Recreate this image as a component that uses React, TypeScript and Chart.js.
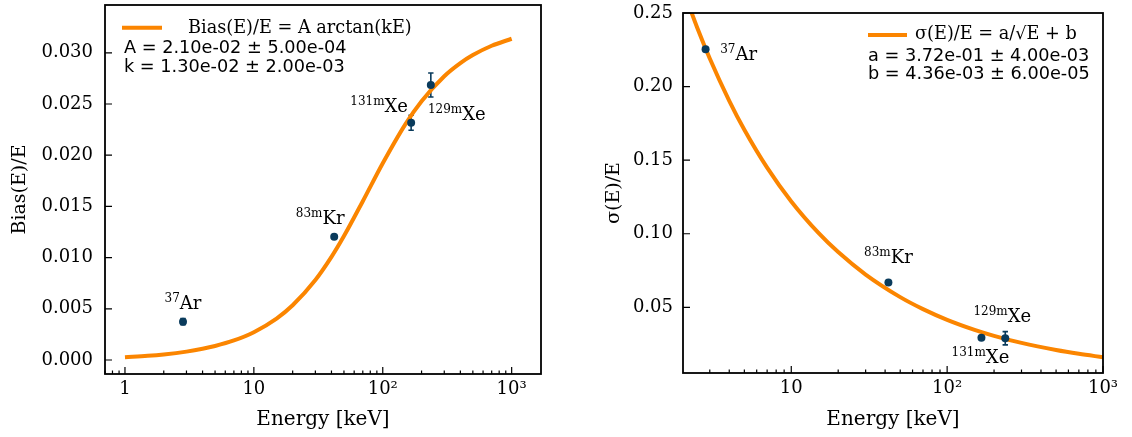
import { useEffect, useRef } from 'react';
import { Chart, registerables } from 'chart.js';

Chart.register(...registerables);

const FONT = '"DejaVu Serif", serif';
const SANS = '"DejaVu Sans", sans-serif';
const NAVY = '#0a3b5c';
const ORANGE = '#fb8500';

// ---- shared data ----
const isoMass = ['37', '83m', '131m', '129m'];
const isoSymbol = ['Ar', 'Kr', 'Xe', 'Xe'];
const energies = [2.82, 42, 166, 236];

// ---- left panel: bias ----
const biasValues = [0.00374, 0.01204, 0.02317, 0.02686];
const biasErrors = [0.0003, 0.0001, 0.00073, 0.00117];
const biasFitEnergy = [1, 1.5, 2, 3, 4, 5, 7, 10, 15, 20, 30, 40, 50, 70, 100, 150, 200, 300, 400, 500, 700, 1000];
const biasFitValue = [0.000273, 0.000409, 0.000546, 0.000819, 0.001091, 0.001363, 0.001906, 0.002715, 0.004045, 0.005342, 0.007809, 0.01007, 0.012104, 0.015509, 0.019217, 0.023043, 0.025276, 0.027716, 0.028997, 0.029781, 0.030688, 0.031375];
const biasYTicks = [0, 0.005, 0.01, 0.015, 0.02, 0.025, 0.03];
const biasYTickLabels = ['0.000', '0.005', '0.010', '0.015', '0.020', '0.025', '0.030'];
const biasXTicks = [1, 10, 100, 1000];
const biasXTickLabels = ['1', '10', '10²', '10³'];
const biasLegend = ['Bias(E)/E = A arctan(kE)', 'A = 2.10e-02 ± 5.00e-04', 'k = 1.30e-02 ± 2.00e-03'];

// ---- right panel: resolution ----
const resValues = [0.2254, 0.0669, 0.0293, 0.029];
const resErrors = [0.001, 0.001, 0.001, 0.0045];
const resFitEnergy = [2, 2.5, 3, 4, 5, 7, 10, 15, 20, 30, 50, 70, 100, 150, 200, 300, 500, 700, 1000];
const resFitValue = [0.267404, 0.239634, 0.219134, 0.19036, 0.170723, 0.144963, 0.121996, 0.10041, 0.087542, 0.072278, 0.056969, 0.048823, 0.04156, 0.034734, 0.030664, 0.025837, 0.020996, 0.01842, 0.016124];
const resYTicks = [0.05, 0.1, 0.15, 0.2, 0.25];
const resYTickLabels = ['0.05', '0.10', '0.15', '0.20', '0.25'];
const resXTicks = [10, 100, 1000];
const resXTickLabels = ['10', '10²', '10³'];
const resLegend = ['σ(E)/E = a/√E + b', 'a = 3.72e-01 ± 4.00e-03', 'b = 4.36e-03 ± 6.00e-05'];

// ---- layout / style (pixels) ----
const biasLabelOffsets = [[0, -13], [-14, -13], [-32, -11], [26, 35]];
const resLabelOffsets = [[33, 11], [0, -19], [-1, 25], [-3, -16]];
const biasLegendPos = { lineX0: 17, lineX1: 57, lineY: 22.7, textX: 83, textY: 27.7, restX: 19, restY: [48.3, 67.3] };
const resLegendPos = { lineX0: 185, lineX1: 224, lineY: 22, textX: 232, textY: 26.3, restX: 185, restY: [47.5, 66] };

function makeDecor(cfg: any) {
  return {
    id: 'decor',
    beforeDatasetsDraw(chart: any) {
      const { ctx } = chart;
      const x = chart.scales.x, y = chart.scales.y;
      ctx.save();
      ctx.strokeStyle = NAVY;
      ctx.lineWidth = 1.6;
      cfg.energies.forEach((e: number, i: number) => {
        const px = x.getPixelForValue(e);
        const y1 = y.getPixelForValue(cfg.values[i] - cfg.errors[i]);
        const y2 = y.getPixelForValue(cfg.values[i] + cfg.errors[i]);
        ctx.beginPath();
        ctx.moveTo(px, y1); ctx.lineTo(px, y2);
        ctx.moveTo(px - 2.7, y1); ctx.lineTo(px + 2.7, y1);
        ctx.moveTo(px - 2.7, y2); ctx.lineTo(px + 2.7, y2);
        ctx.stroke();
      });
      ctx.restore();
    },
    afterDraw(chart: any) {
      const { ctx, chartArea: a } = chart;
      const x = chart.scales.x, y = chart.scales.y;
      ctx.save();
      // ticks (inward)
      ctx.strokeStyle = '#000';
      ctx.lineWidth = 1.2;
      ctx.beginPath();
      const lo = Math.floor(Math.log10(x.min)), hi = Math.ceil(Math.log10(x.max));
      for (let d = lo; d <= hi; d++) {
        for (let m = 1; m < 10; m++) {
          const v = m * Math.pow(10, d);
          if (v < x.min || v > x.max) continue;
          const px = x.getPixelForValue(v);
          const len = m === 1 ? 7 : 3.5;
          ctx.moveTo(px, a.bottom); ctx.lineTo(px, a.bottom - len);
        }
      }
      y.ticks.forEach((t: any) => {
        const py = y.getPixelForValue(t.value);
        ctx.moveTo(a.left, py); ctx.lineTo(a.left + 7, py);
      });
      ctx.stroke();
      // frame
      ctx.lineWidth = 1.8;
      ctx.strokeRect(a.left, a.top, a.right - a.left, a.bottom - a.top);
      // isotope labels
      ctx.fillStyle = '#000';
      ctx.textBaseline = 'alphabetic';
      ctx.textAlign = 'left';
      cfg.energies.forEach((e: number, i: number) => {
        const px = x.getPixelForValue(e) + cfg.labelOffsets[i][0];
        const py = y.getPixelForValue(cfg.values[i]) + cfg.labelOffsets[i][1];
        ctx.font = `12px ${FONT}`;
        const sw = ctx.measureText(cfg.mass[i]).width;
        ctx.font = `18px ${FONT}`;
        const mw = ctx.measureText(cfg.symbol[i]).width;
        const x0 = px - (sw + mw) / 2;
        ctx.font = `12px ${FONT}`;
        ctx.fillText(cfg.mass[i], x0, py - 7);
        ctx.font = `18px ${FONT}`;
        ctx.fillText(cfg.symbol[i], x0 + sw, py);
      });
      // legend
      const L = cfg.legendPos;
      ctx.strokeStyle = ORANGE;
      ctx.lineWidth = 4;
      ctx.beginPath();
      ctx.moveTo(a.left + L.lineX0, a.top + L.lineY);
      ctx.lineTo(a.left + L.lineX1, a.top + L.lineY);
      ctx.stroke();
      ctx.font = `17.7px ${FONT}`;
      ctx.fillText(cfg.legend[0], a.left + L.textX, a.top + L.textY);
      ctx.font = `17.7px ${SANS}`;
      ctx.fillText(cfg.legend[1], a.left + L.restX, a.top + L.restY[0]);
      ctx.fillText(cfg.legend[2], a.left + L.restX, a.top + L.restY[1]);
      ctx.restore();
    },
  };
}

function makeChart(canvas: HTMLCanvasElement, p: any) {
  return new Chart(canvas, {
    type: 'scatter',
    data: {
      datasets: [
        {
          type: 'scatter',
          data: p.energies.map((e: number, i: number) => ({ x: e, y: p.values[i] })),
          pointRadius: 4,
          pointBackgroundColor: NAVY,
          pointBorderWidth: 0,
          order: 0,
        } as any,
        {
          type: 'line',
          data: p.fitE.map((e: number, i: number) => ({ x: e, y: p.fitY[i] })),
          borderColor: ORANGE,
          borderWidth: 4,
          pointRadius: 0,
          cubicInterpolationMode: 'monotone',
          fill: false,
          order: 1,
          clip: 0,
        } as any,
      ],
    },
    options: {
      animation: false,
      responsive: false,
      layout: { padding: p.padding },
      plugins: { legend: { display: false }, tooltip: { enabled: false } },
      scales: {
        x: {
          type: 'logarithmic',
          min: p.xMin,
          max: p.xMax,
          bounds: 'data',
          afterFit: (s: any) => { s.height = p.xAxisHeight; s.paddingLeft = 0; s.paddingRight = 0; },
          afterBuildTicks: (s: any) => { s.ticks = p.xTicks.map((v: number) => ({ value: v, major: true })); },
          grid: { display: false, drawTicks: false },
          border: { display: false },
          ticks: {
            autoSkip: false, maxRotation: 0, minRotation: 0, padding: 5, color: '#000',
            font: { size: 18, family: FONT },
            callback: (_v: any, i: number) => p.xTickLabels[i],
          },
          title: { display: true, text: 'Energy [keV]', color: '#000', font: { size: 20, family: FONT }, padding: { top: 0, bottom: 5 } },
        },
        y: {
          type: 'linear',
          min: p.yMin,
          max: p.yMax,
          bounds: 'data',
          afterFit: (s: any) => { s.width = p.yAxisWidth; s.paddingTop = 0; s.paddingBottom = 0; },
          afterBuildTicks: (s: any) => { s.ticks = p.yTicks.map((v: number) => ({ value: v })); },
          grid: { display: false, drawTicks: false },
          border: { display: false },
          ticks: {
            autoSkip: false, padding: p.yTickPad, color: '#000',
            font: { size: 18, family: FONT },
            callback: (_v: any, i: number) => p.yTickLabels[i],
          },
          title: { display: true, text: p.yTitle, color: '#000', font: { size: 19, family: FONT }, padding: { top: 8.6, bottom: 0 } },
        },
      },
    } as any,
    plugins: [makeDecor(p)],
  } as any);
}

export default function App() {
  const leftRef = useRef<HTMLCanvasElement>(null);
  const rightRef = useRef<HTMLCanvasElement>(null);

  useEffect(() => {
    Chart.defaults.font.family = FONT;
    Chart.defaults.color = '#000';
    const c1 = makeChart(leftRef.current!, {
      energies, values: biasValues, errors: biasErrors,
      fitE: biasFitEnergy, fitY: biasFitValue,
      xMin: 0.7, xMax: 1689, yMin: -0.001367, yMax: 0.03467,
      xTicks: biasXTicks, xTickLabels: biasXTickLabels,
      yTicks: biasYTicks, yTickLabels: biasYTickLabels,
      yTitle: 'Bias(E)/E',
      padding: { left: 0, top: 5, right: 49, bottom: 0 },
      xAxisHeight: 63, yAxisWidth: 105, yTickPad: 12,
      mass: isoMass, symbol: isoSymbol, labelOffsets: biasLabelOffsets,
      legend: biasLegend, legendPos: biasLegendPos,
    });
    const c2 = makeChart(rightRef.current!, {
      energies, values: resValues, errors: resErrors,
      fitE: resFitEnergy, fitY: resFitValue,
      xMin: 2.02, xMax: 1000, yMin: 0.0054, yMax: 0.25,
      xTicks: resXTicks, xTickLabels: resXTickLabels,
      yTicks: resYTicks, yTickLabels: resYTickLabels,
      yTitle: 'σ(E)/E',
      padding: { left: 0, top: 13, right: 29, bottom: 0 },
      xAxisHeight: 64, yAxisWidth: 89, yTickPad: 10,
      mass: isoMass, symbol: isoSymbol, labelOffsets: resLabelOffsets,
      legend: resLegend, legendPos: resLegendPos,
    });
    return () => { c1.destroy(); c2.destroy(); };
  }, []);

  return (
    <div style={{ position: 'fixed', left: 0, top: 0, width: 1132, height: 437, background: '#fff' }}>
      <canvas ref={leftRef} width={590} height={437} style={{ position: 'absolute', left: 0, top: 0, width: 590, height: 437 }} />
      <canvas ref={rightRef} width={538} height={437} style={{ position: 'absolute', left: 594, top: 0, width: 538, height: 437 }} />
    </div>
  );
}
